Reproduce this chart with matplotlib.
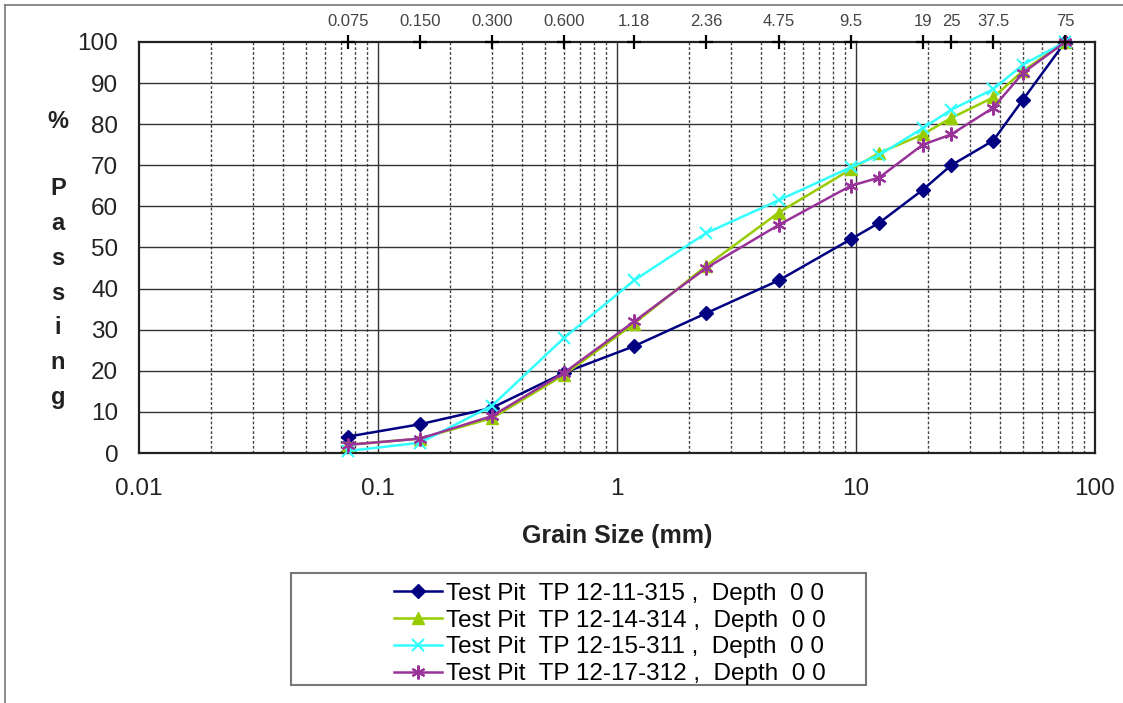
import numpy as np
import matplotlib
matplotlib.use("Agg")
from matplotlib import pyplot as plt
from matplotlib.patches import Rectangle
from matplotlib.lines import Line2D

plt.rcParams['font.family'] = ['Liberation Sans', 'DejaVu Sans']

# =============================================================================
# data
# =============================================================================

sieve_mm = [0.075, 0.15, 0.3, 0.6, 1.18, 2.36, 4.75, 9.5, 12.5, 19, 25, 37.5, 50, 75]

tp_315 = [4, 7, 11, 19.5, 26, 34, 42, 52, 56, 64, 70, 76, 86, 100]
tp_314 = [2, 3.5, 8.5, 19, 31.5, 45.5, 58.5, 69, 73, 77.5, 81.5, 86.5, 93, 100]
tp_311 = [0.5, 2.5, 11.5, 28, 42, 53.5, 61.5, 69.5, 72.5, 79, 83.5, 88.5, 94.5, 100]
tp_312 = [2, 3.5, 9, 19.5, 32, 45, 55.5, 65, 67, 75, 77.5, 84, 92.5, 100]

series_names = [
    "Test Pit  TP 12-11-315 ,  Depth  0 0",
    "Test Pit  TP 12-14-314 ,  Depth  0 0",
    "Test Pit  TP 12-15-311 ,  Depth  0 0",
    "Test Pit  TP 12-17-312 ,  Depth  0 0",
]

top_ticks = [0.075, 0.15, 0.3, 0.6, 1.18, 2.36, 4.75, 9.5, 19, 25, 37.5, 75]
top_labels = ["0.075", "0.150", "0.300", "0.600", "1.18", "2.36", "4.75",
              "9.5", "19", "25", "37.5", "75"]

# =============================================================================
# plot
# =============================================================================

fig = plt.figure(figsize=(11.23, 7.03), dpi=100)
ax = fig.add_axes([139 / 1123, 1 - 453 / 703, (1095 - 139) / 1123, (453 - 42) / 703])

ax.set_xscale('log')
ax.set_xlim(0.01, 100)
ax.set_ylim(0, 100)

# grid: solid at decades and every 10 %, dashed at minor decades
for dec in [0.01, 0.1, 1, 10]:
    for k in range(2, 10):
        ax.axvline(dec * k, color='#444444', lw=1.0, ls=(0, (2, 1.5)), zorder=1)
for dec in [0.1, 1, 10]:
    ax.axvline(dec, color='#333333', lw=1.0, zorder=1)
for yv in range(10, 100, 10):
    ax.axhline(yv, color='#333333', lw=1.0, zorder=1)

styles = [
    dict(color='#000080', marker='D', ms=7, mfc='#000080', mec='#000080'),
    dict(color='#99CC00', marker='^', ms=8, mfc='#99CC00', mec='#99CC00'),
    dict(color='#33FFFF', marker='x', ms=9, mew=1.5),
    dict(color='#993399', marker=(6, 2, 0), ms=10, mew=1.5),
]

for vals, st, name in zip([tp_315, tp_314, tp_311, tp_312], styles, series_names):
    ax.plot(sieve_mm, vals, lw=1.8, zorder=3, clip_on=False, label=name, **st)

for sp in ax.spines.values():
    sp.set_linewidth(1.6)
    sp.set_color('#222222')

ax.set_yticks(range(0, 101, 10))
ax.set_xticks([0.01, 0.1, 1, 10, 100])
ax.set_xticklabels(["0.01", "0.1", "1", "10", "100"])
ax.minorticks_off()
ax.tick_params(axis='both', length=0, labelsize=17.5, colors='#222222')
ax.tick_params(axis='x', pad=18)
ax.tick_params(axis='y', pad=15)

# sieve marks along the top edge
ax.plot(top_ticks, [100] * len(top_ticks), ls='none', marker='+', ms=10, mew=1.6,
        color='black', clip_on=False, zorder=4)
for xv, lab in zip(top_ticks, top_labels):
    ax.text(xv, 103.2, lab, ha='center', va='bottom', fontsize=12, color='#444444',
            clip_on=False)

ax.set_xlabel("Grain Size (mm)", fontsize=18, fontweight='bold', labelpad=17, color='#222222')

# stacked y label
fig.text(58 / 1123, 1 - 122 / 703, "%", ha='center', va='center', fontsize=17,
         fontweight='bold', color='#222222')
fig.text(58 / 1123, 1 - 293 / 703, "P\na\ns\ns\ni\nn\ng", ha='center', va='center',
         fontsize=17, fontweight='bold', color='#222222', linespacing=1.65)

# legend with a wide box
fig.patches.append(Rectangle((291 / 1123, 1 - 685 / 703), (866 - 291) / 1123, (685 - 573) / 703,
                             transform=fig.transFigure, fill=False, ec='#777777', lw=1.5))
leg_handles = [Line2D([], [], **{**st, 'lw': 1.8}) for st in styles]
fig.legend(leg_handles, series_names, loc='center left',
           bbox_to_anchor=(382 / 1123, 1 - 634 / 703), frameon=False, fontsize=17.5,
           handlelength=1.95, handletextpad=0.2, labelspacing=0.2, borderpad=0)

# outer image frame
fig.add_artist(Line2D([5 / 1123, 5 / 1123], [0, 1 - 5 / 703], transform=fig.transFigure,
                      color='#777777', lw=1.2))
fig.add_artist(Line2D([5 / 1123, 1], [1 - 5 / 703, 1 - 5 / 703], transform=fig.transFigure,
                      color='#777777', lw=1.2))

fig.savefig("out.png", dpi=100)
